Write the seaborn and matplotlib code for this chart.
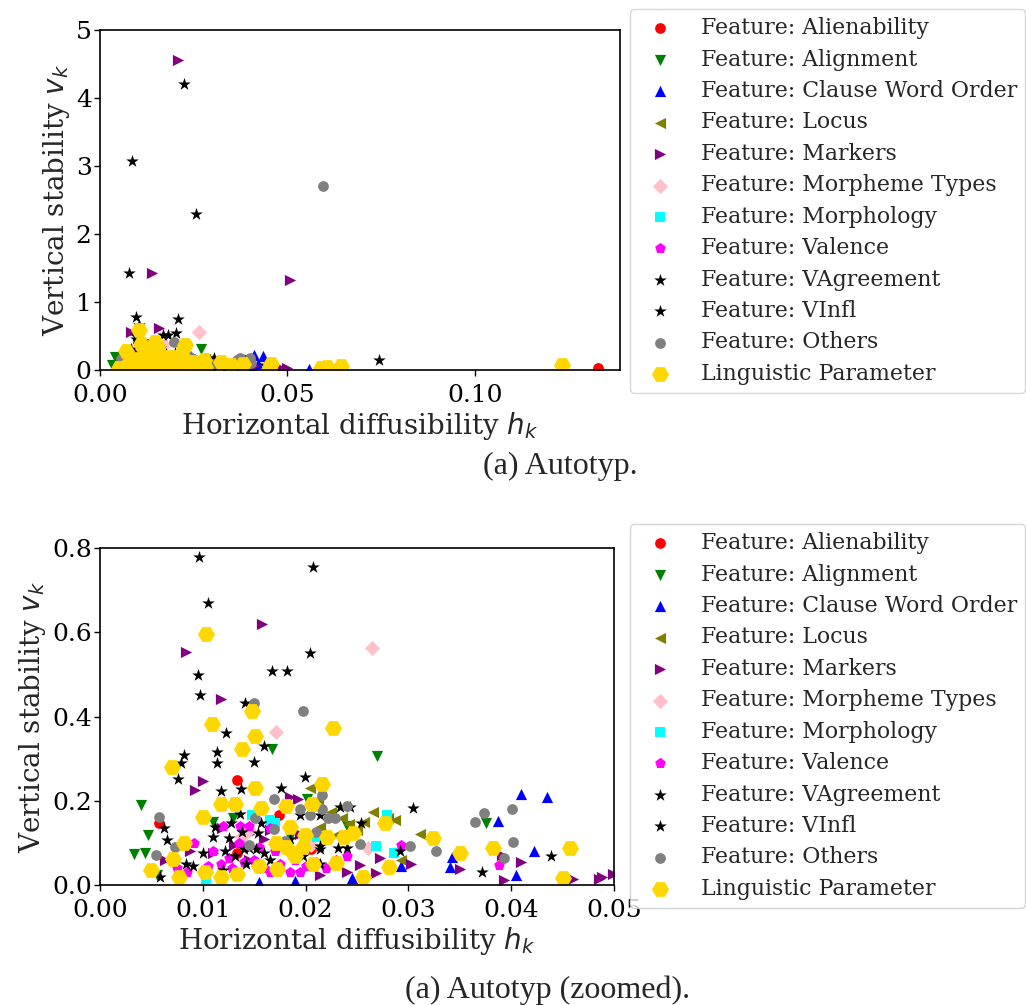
import matplotlib
matplotlib.use("Agg")
import matplotlib.pyplot as plt
import seaborn as sns
from matplotlib.ticker import FormatStrFormatter

# ---------------- data (h_k, v_k) per category ----------------
alien_x = [0.0133, 0.0057, 0.0174, 0.0133, 0.0205, 0.1328]
alien_y = [0.249, 0.147, 0.166, 0.075, 0.085, 0.025]

align_x = [0.0040, 0.0047, 0.0033, 0.0044, 0.0055, 0.0110, 0.0129, 0.0167, 0.0269,
           0.0201, 0.0375, 0.0185, 0.0240]
align_y = [0.190, 0.119, 0.074, 0.075, 0.024, 0.150, 0.160, 0.322, 0.306,
           0.204, 0.146, 0.115, 0.140]

clause_x = [0.0410, 0.0435, 0.0387, 0.0342, 0.0340, 0.0293, 0.0422, 0.0405, 0.0245,
            0.0155, 0.0558, 0.0190]
clause_y = [0.215, 0.209, 0.152, 0.067, 0.043, 0.045, 0.081, 0.024, 0.016,
            0.008, 0.020, 0.010]

locus_x = [0.0204, 0.0225, 0.0266, 0.0214, 0.0287, 0.0311, 0.0293, 0.0235, 0.0242,
           0.0250, 0.0230, 0.0257, 0.0212, 0.0280]
locus_y = [0.230, 0.174, 0.174, 0.138, 0.154, 0.120, 0.059, 0.160, 0.145,
           0.130, 0.118, 0.150, 0.205, 0.160]

markers_x = [0.0208, 0.0140, 0.0508, 0.0488, 0.0158, 0.0084, 0.0118, 0.0100, 0.0092,
             0.0185, 0.0193, 0.0272, 0.0253, 0.0268, 0.0240, 0.0214, 0.0350, 0.0303,
             0.0391, 0.0410, 0.0393, 0.0460, 0.0485, 0.0499, 0.0119, 0.0145, 0.0160,
             0.0130, 0.0165, 0.0110, 0.0088, 0.0145, 0.0180, 0.0195, 0.0063]
markers_y = [4.56, 1.43, 1.33, 0.020, 0.620, 0.554, 0.441, 0.247, 0.225,
             0.210, 0.204, 0.063, 0.047, 0.029, 0.032, 0.024, 0.037, 0.049,
             0.071, 0.054, 0.013, 0.014, 0.015, 0.025, 0.135, 0.120, 0.110,
             0.095, 0.130, 0.075, 0.080, 0.060, 0.100, 0.120, 0.060]

morph_types_x = [0.0265, 0.0171, 0.0138, 0.0261, 0.0205, 0.0145]
morph_types_y = [0.562, 0.364, 0.115, 0.087, 0.095, 0.130]

morphology_x = [0.0103, 0.0165, 0.0148, 0.0279, 0.0268, 0.0286, 0.0211, 0.0170]
morphology_y = [0.012, 0.154, 0.166, 0.166, 0.093, 0.077, 0.115, 0.148]

valence_x = [0.0120, 0.0136, 0.0135, 0.0091, 0.0075, 0.0085, 0.0105, 0.0118, 0.0128,
             0.0140, 0.0150, 0.0160, 0.0165, 0.0175, 0.0185, 0.0190, 0.0195, 0.0200,
             0.0210, 0.0220, 0.0230, 0.0155, 0.0170, 0.0145, 0.0165, 0.0110, 0.0125,
             0.0100, 0.0293, 0.0388, 0.0240, 0.0180]
valence_y = [0.140, 0.140, 0.099, 0.099, 0.040, 0.030, 0.045, 0.050, 0.040,
             0.055, 0.060, 0.040, 0.030, 0.050, 0.030, 0.060, 0.030, 0.045,
             0.055, 0.040, 0.060, 0.090, 0.080, 0.140, 0.135, 0.080, 0.065,
             0.030, 0.095, 0.047, 0.070, 0.090]

vagree_x = [0.0224, 0.0086, 0.0255, 0.0077, 0.0745, 0.0096, 0.0207, 0.0105, 0.0204,
            0.0095, 0.0167, 0.0182, 0.0097, 0.0141, 0.0123, 0.0114, 0.0082, 0.0079,
            0.0114, 0.0150, 0.0076, 0.0118, 0.0137, 0.0160, 0.0199, 0.0176, 0.0233,
            0.0243, 0.0214, 0.0195]
vagree_y = [4.21, 3.08, 2.29, 1.43, 0.148, 0.778, 0.756, 0.669, 0.551,
            0.499, 0.508, 0.508, 0.450, 0.433, 0.360, 0.316, 0.309, 0.290,
            0.289, 0.291, 0.251, 0.224, 0.229, 0.330, 0.256, 0.230, 0.184,
            0.186, 0.166, 0.166]

vinfl_x = [0.0062, 0.0136, 0.0112, 0.0127, 0.0065, 0.0138, 0.0110, 0.0125, 0.0254,
           0.0157, 0.0154, 0.0232, 0.0240, 0.0214, 0.0214, 0.0140, 0.0145, 0.0152,
           0.0197, 0.0100, 0.0084, 0.0122, 0.0131, 0.0214, 0.0304, 0.0292, 0.0372,
           0.0439, 0.0058, 0.0090, 0.0160, 0.0185, 0.0165, 0.0142, 0.0120]
vinfl_y = [0.136, 0.168, 0.138, 0.146, 0.108, 0.125, 0.115, 0.112, 0.148,
           0.148, 0.124, 0.089, 0.089, 0.092, 0.085, 0.085, 0.089, 0.085,
           0.069, 0.077, 0.051, 0.080, 0.070, 0.050, 0.182, 0.081, 0.030,
           0.069, 0.020, 0.045, 0.075, 0.110, 0.060, 0.050, 0.035]

others_x = [0.0596, 0.0150, 0.0197, 0.0057, 0.0151, 0.0073, 0.0054, 0.0169, 0.0216,
            0.0240, 0.0195, 0.0216, 0.0204, 0.0222, 0.0229, 0.0169, 0.0253, 0.0302,
            0.0327, 0.0374, 0.0365, 0.0401, 0.0402, 0.0393, 0.0145, 0.0210, 0.0180]
others_y = [2.71, 0.432, 0.412, 0.162, 0.158, 0.091, 0.071, 0.203, 0.214,
            0.187, 0.180, 0.180, 0.166, 0.158, 0.158, 0.134, 0.097, 0.093,
            0.081, 0.172, 0.149, 0.180, 0.103, 0.063, 0.095, 0.125, 0.105]

param_x = [0.1233, 0.0605, 0.0643, 0.0590, 0.0103, 0.0148, 0.0109, 0.0151, 0.0138,
           0.0070, 0.0151, 0.0118, 0.0131, 0.0100, 0.0082, 0.0071, 0.0050, 0.0077,
           0.0102, 0.0118, 0.0133, 0.0227, 0.0216, 0.0206, 0.0181, 0.0157, 0.0277,
           0.0185, 0.0199, 0.0221, 0.0237, 0.0246, 0.0171, 0.0181, 0.0188, 0.0190,
           0.0197, 0.0155, 0.0172, 0.0207, 0.0230, 0.0281, 0.0256, 0.0324, 0.0350,
           0.0382, 0.0457, 0.0450]
param_y = [0.074, 0.050, 0.055, 0.030, 0.595, 0.412, 0.382, 0.354, 0.324,
           0.281, 0.230, 0.192, 0.192, 0.162, 0.100, 0.061, 0.036, 0.020,
           0.032, 0.020, 0.025, 0.372, 0.240, 0.192, 0.187, 0.182, 0.146,
           0.137, 0.119, 0.113, 0.113, 0.124, 0.100, 0.090, 0.077, 0.068,
           0.090, 0.045, 0.037, 0.050, 0.053, 0.043, 0.018, 0.112, 0.077,
           0.088, 0.087, 0.016]

series = [
    ("Feature: Alienability", alien_x, alien_y, "o", "red", 60),
    ("Feature: Alignment", align_x, align_y, "v", "green", 65),
    ("Feature: Clause Word Order", clause_x, clause_y, "^", "blue", 65),
    ("Feature: Locus", locus_x, locus_y, "<", "olive", 65),
    ("Feature: Markers", markers_x, markers_y, ">", "purple", 65),
    ("Feature: Morpheme Types", morph_types_x, morph_types_y, "D", "pink", 60),
    ("Feature: Morphology", morphology_x, morphology_y, "s", "cyan", 55),
    ("Feature: Valence", valence_x, valence_y, "p", "magenta", 65),
    ("Feature: VAgreement", vagree_x, vagree_y, "*", "black", 90),
    ("Feature: VInfl", vinfl_x, vinfl_y, "*", "black", 90),
    ("Feature: Others", others_x, others_y, "o", "gray", 60),
    ("Linguistic Parameter", param_x, param_y, "H", "gold", 150),
]

# ---------------- style ----------------
sns.set_style("ticks")
plt.rcParams["font.family"] = ["DejaVu Serif"]
plt.rcParams["mathtext.fontset"] = "dejavusans"
plt.rcParams["axes.edgecolor"] = "black"
plt.rcParams["xtick.color"] = "black"
plt.rcParams["ytick.color"] = "black"

W, H = 1026, 1005
fig = plt.figure(figsize=(W / 100, H / 100), dpi=100)

ax1 = fig.add_axes([100 / W, 1 - 370 / H, 520 / W, 340 / H])
ax2 = fig.add_axes([100 / W, 1 - 885 / H, 514 / W, 337 / H])


def draw(ax):
    for label, xs, ys, mk, col, size in series:
        sns.scatterplot(x=xs, y=ys, marker=mk, color=col, s=size,
                        linewidth=0, label=label, ax=ax)


draw(ax1)
draw(ax2)

ax1.set_xlim(0, 0.1387)
ax1.set_ylim(0, 5)
ax1.set_xticks([0, 0.05, 0.10])
ax1.set_yticks([0, 1, 2, 3, 4, 5])
ax1.xaxis.set_major_formatter(FormatStrFormatter("%.2f"))

ax2.set_xlim(0, 0.05)
ax2.set_ylim(0, 0.8)
ax2.set_xticks([0, 0.01, 0.02, 0.03, 0.04, 0.05])
ax2.set_yticks([0, 0.2, 0.4, 0.6, 0.8])
ax2.xaxis.set_major_formatter(FormatStrFormatter("%.2f"))
ax2.yaxis.set_major_formatter(FormatStrFormatter("%.1f"))

for ax, cy in [(ax1, 1 - 201 / H), (ax2, 1 - 716 / H)]:
    ax.tick_params(labelsize=18, length=4, width=1)
    ax.tick_params(axis="x", pad=6)
    ax.tick_params(axis="y", pad=2)
    for sp in ax.spines.values():
        sp.set_linewidth(1.2)
    ax.set_xlabel("Horizontal diffusibility $h_k$", fontsize=20, labelpad=2)
    ax.set_ylabel("Vertical stability $v_k$", fontsize=20, labelpad=3)
    ax.legend(loc="center left", bbox_to_anchor=(630 / W, cy),
              bbox_transform=fig.transFigure, borderaxespad=0,
              fontsize=15.8, frameon=True, handletextpad=0.9,
              labelspacing=0.43, borderpad=0.35)

fig.text(560 / W, 1 - 466 / H, "(a) Autotyp.", ha="center", va="center",
         fontsize=23, family="Liberation Serif")
fig.text(548 / W, 1 - 990 / H, "(a) Autotyp (zoomed).", ha="center", va="center",
         fontsize=23, family="Liberation Serif")

fig.savefig("out.png", dpi=100)
